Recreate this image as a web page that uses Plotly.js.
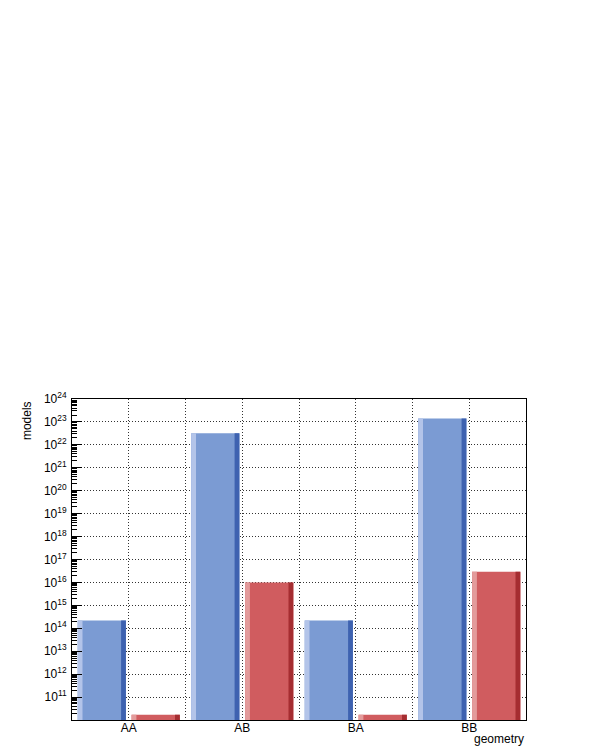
<!DOCTYPE html>
<html>
<head>
<meta charset="utf-8">
<script src="https://cdn.plot.ly/plotly-3.0.1.min.js"></script>
<style>
  body { margin: 0; background: #fff; }
  #chart { width: 598px; height: 747px; }
</style>
</head>
<body>
<div id="chart"></div>
<script>
var categories = ['AA', 'AB', 'BA', 'BB'];
var blueValues = [2.2e14, 3.2e22, 2.2e14, 1.4e23];
var redValues = [1.7e10, 1.0e16, 1.7e10, 2.9e16];
var decades = [11, 12, 13, 14, 15, 16, 17, 18, 19, 20, 21, 22, 23, 24];

var xpos = categories.map((c, i) => i);
var barW = 0.425;
var stripW = barW * 0.1;

// ROOT style bar: main fill, light strip on the left, dark strip on the right
function shadedBar(values, offset, main, light, dark) {
    var base = {
        x: xpos,
        y: values,
        type: 'bar',
        hoverinfo: 'skip',
        showlegend: false
    };
    return [
        Object.assign({}, base, {offset: offset, width: barW, marker: {color: main}}),
        Object.assign({}, base, {offset: offset, width: stripW, marker: {color: light}}),
        Object.assign({}, base, {offset: offset + barW - stripW, width: stripW, marker: {color: dark}})
    ];
}

var traces = [].concat(
    shadedBar(blueValues, -0.45, '#7b9bd3', '#b3c4e9', '#3e62b0'),
    shadedBar(redValues, 0.025, '#d05c5f', '#e39b9b', '#a52d31')
);

var font = {family: 'Liberation Sans, Arial, sans-serif', size: 11, color: '#000'};
var gridStyle = {gridcolor: '#333', griddash: '1px,2px', gridwidth: 1};

var layout = {
    width: 598,
    height: 747,
    margin: {l: 72, r: 72, t: 399, b: 27},
    paper_bgcolor: '#fff',
    plot_bgcolor: '#fff',
    barmode: 'overlay',
    font: font,
    xaxis: Object.assign({
        type: 'linear',
        range: [-0.5, 3.5],
        tickvals: xpos,
        ticktext: categories,
        ticks: '',
        showgrid: true,
        minor: Object.assign({dtick: 0.5, tick0: 0, showgrid: true, ticks: ''}, gridStyle),
        showline: true,
        linecolor: '#000',
        linewidth: 1,
        mirror: true,
        zeroline: false,
        tickfont: {size: 12},
        ticklabelstandoff: -3
    }, gridStyle),
    yaxis: Object.assign({
        type: 'log',
        range: [10, 24],
        tickvals: decades.map(d => Math.pow(10, d)),
        ticktext: decades.map(d => '10<sup>' + d + '</sup>'),
        ticks: 'inside',
        ticklen: 10,
        tickcolor: '#000',
        minor: {dtick: 'D1', ticks: 'inside', ticklen: 5, tickcolor: '#000', showgrid: false},
        showgrid: true,
        showline: true,
        linecolor: '#000',
        linewidth: 1,
        mirror: true,
        zeroline: false,
        tickfont: {size: 12},
        ticklabelstandoff: 2
    }, gridStyle),
    annotations: [
        {
            text: 'models', xref: 'paper', yref: 'paper', x: -0.1, y: 1,
            xanchor: 'center', yanchor: 'top', textangle: -90, showarrow: false,
            font: {size: 12}
        },
        {
            text: 'geometry', xref: 'paper', yref: 'paper', x: 1, y: -0.06,
            xanchor: 'right', yanchor: 'middle', showarrow: false,
            font: {size: 12}
        }
    ]
};

Plotly.newPlot('chart', traces, layout, {displayModeBar: false, staticPlot: true});
</script>
</body>
</html>
